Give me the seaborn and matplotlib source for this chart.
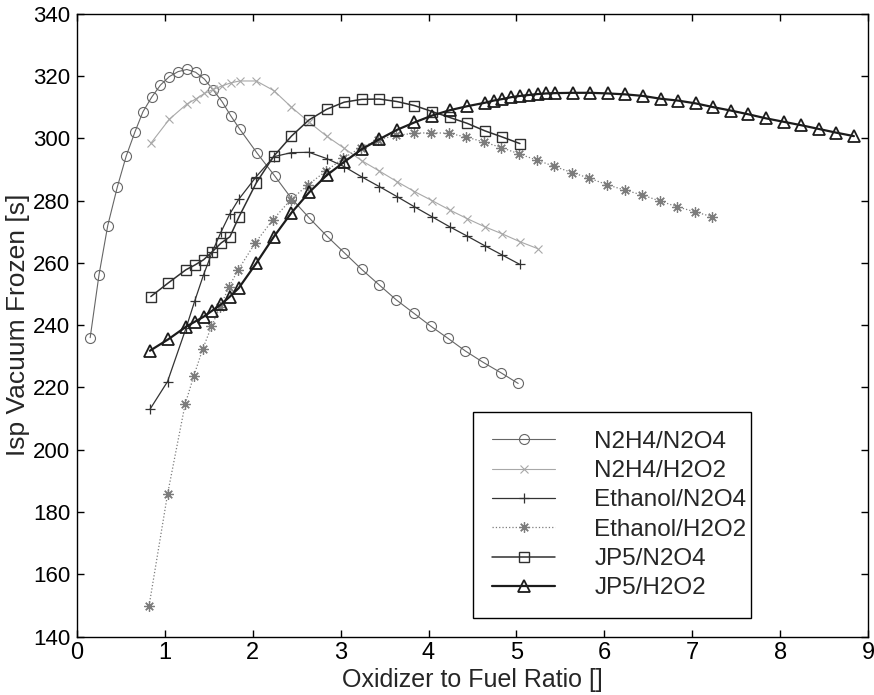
import seaborn as sns
from matplotlib import pyplot as plt
from matplotlib import font_manager

# Oxidizer to fuel ratio / Isp vacuum frozen [s]
n2h4_n2o4_of = [0.15, 0.25, 0.35, 0.46, 0.56, 0.66, 0.75, 0.85, 0.95, 1.05, 1.15, 1.25,
                1.35, 1.45, 1.55, 1.65, 1.75, 1.85, 2.05, 2.25, 2.44, 2.64, 2.84, 3.04,
                3.24, 3.44, 3.63, 3.83, 4.03, 4.22, 4.42, 4.62, 4.82, 5.02]
n2h4_n2o4_isp = [236.0, 256.1, 272.0, 284.5, 294.3, 302.1, 308.5, 313.2, 317.1, 319.8,
                 321.4, 322.1, 321.2, 319.0, 315.5, 311.8, 307.2, 303.0, 295.2, 287.9,
                 280.7, 274.5, 268.7, 263.3, 257.9, 252.9, 248.2, 243.9, 239.6, 235.8,
                 231.7, 228.1, 224.8, 221.3]

n2h4_h2o2_of = [0.84, 1.05, 1.25, 1.35, 1.45, 1.55, 1.65, 1.75, 1.85, 2.04, 2.24, 2.44,
                2.64, 2.84, 3.04, 3.24, 3.44, 3.64, 3.84, 4.04, 4.24, 4.44, 4.64, 4.84,
                5.04, 5.24]
n2h4_h2o2_isp = [298.4, 306.1, 311.0, 312.6, 314.4, 315.7, 316.8, 317.8, 318.4, 318.4,
                 315.3, 310.0, 305.2, 300.7, 296.8, 292.8, 289.5, 286.1, 282.9, 280.0,
                 277.0, 274.2, 271.6, 269.3, 266.8, 264.6]

ethanol_n2o4_of = [0.83, 1.03, 1.24, 1.34, 1.44, 1.54, 1.64, 1.74, 1.84, 2.04, 2.24, 2.44,
                   2.64, 2.84, 3.04, 3.24, 3.44, 3.64, 3.84, 4.04, 4.24, 4.44, 4.64, 4.84,
                   5.04]
ethanol_n2o4_isp = [213.0, 221.9, 239.0, 247.8, 256.2, 263.6, 270.0, 275.8, 280.4, 287.7,
                    294.1, 295.4, 295.5, 293.5, 290.9, 287.6, 284.5, 281.3, 278.0, 274.8,
                    271.6, 268.6, 265.5, 262.5, 259.5]

ethanol_h2o2_of = [0.82, 1.03, 1.23, 1.33, 1.43, 1.53, 1.63, 1.73, 1.83, 2.03, 2.23, 2.43,
                   2.63, 2.83, 3.03, 3.23, 3.43, 3.63, 3.83, 4.03, 4.23, 4.43, 4.63, 4.83,
                   5.03, 5.23, 5.43, 5.63, 5.83, 6.03, 6.23, 6.43, 6.63, 6.83, 7.03, 7.23]
ethanol_h2o2_isp = [149.9, 185.7, 214.6, 223.8, 232.3, 239.6, 246.0, 252.3, 257.6, 266.5,
                    273.9, 280.2, 285.1, 289.4, 293.6, 297.0, 299.6, 300.9, 301.6, 301.8,
                    301.6, 300.4, 298.8, 297.0, 295.0, 293.0, 291.0, 289.0, 287.2, 285.1,
                    283.4, 281.8, 279.9, 278.0, 276.4, 274.8]

jp5_n2o4_of = [0.84, 1.04, 1.24, 1.34, 1.44, 1.54, 1.64, 1.74, 1.84, 2.04, 2.24, 2.44,
               2.64, 2.84, 3.04, 3.24, 3.44, 3.64, 3.84, 4.04, 4.24, 4.44, 4.64, 4.84, 5.04]
jp5_n2o4_isp = [249.2, 253.6, 257.8, 259.3, 261.0, 263.6, 266.4, 268.4, 274.6, 285.7,
                294.3, 300.7, 305.9, 309.3, 311.6, 312.5, 312.6, 311.8, 310.5, 308.6,
                306.7, 304.8, 302.4, 300.4, 298.3]

jp5_h2o2_of = [0.83, 1.04, 1.24, 1.34, 1.44, 1.54, 1.64, 1.74, 1.84, 2.04, 2.24, 2.44,
               2.64, 2.84, 3.04, 3.24, 3.44, 3.64, 3.84, 4.04, 4.24, 4.44, 4.64, 4.74,
               4.84, 4.94, 5.04, 5.14, 5.24, 5.34, 5.44, 5.64, 5.84, 6.04, 6.24, 6.44,
               6.64, 6.84, 7.04, 7.24, 7.44, 7.64, 7.84, 8.04, 8.24, 8.44, 8.64, 8.84]
jp5_h2o2_isp = [231.8, 235.5, 239.5, 241.1, 242.7, 244.7, 246.7, 249.2, 251.9, 259.9,
                268.4, 276.1, 282.6, 288.1, 292.4, 296.5, 299.7, 302.7, 305.1, 307.3,
                309.0, 310.3, 311.4, 312.1, 312.6, 313.2, 313.6, 313.9, 314.2, 314.4,
                314.5, 314.6, 314.6, 314.4, 314.1, 313.6, 312.7, 312.1, 311.2, 310.0,
                308.9, 307.7, 306.4, 305.3, 304.2, 303.0, 301.8, 300.7]

labels = ['N2H4/N2O4', 'N2H4/H2O2', 'Ethanol/N2O4', 'Ethanol/H2O2', 'JP5/N2O4', 'JP5/H2O2']
x_ticks = [0, 1, 2, 3, 4, 5, 6, 7, 8, 9]
y_ticks = [140, 160, 180, 200, 220, 240, 260, 280, 300, 320, 340]

series = [(n2h4_n2o4_of, n2h4_n2o4_isp), (n2h4_h2o2_of, n2h4_h2o2_isp),
          (ethanol_n2o4_of, ethanol_n2o4_isp), (ethanol_h2o2_of, ethanol_h2o2_isp),
          (jp5_n2o4_of, jp5_n2o4_isp), (jp5_h2o2_of, jp5_h2o2_isp)]

# line styles, MATLAB-like greyscale
styles = [
    dict(color='#666666', marker='o', markersize=7.2, lw=0.8, ls='-', mew=0.8),
    dict(color='#a8a8a8', marker='x', markersize=5.5, lw=0.8, ls='-', mew=0.8),
    dict(color='#333333', marker='+', markersize=7.5, lw=0.9, ls='-', mew=0.9),
    dict(color='#7c7c7c', marker=(8, 2, 0), markersize=7.5, lw=0.9, ls=':', mew=0.9),
    dict(color='#303030', marker='s', markersize=6.5, lw=1.1, ls='-', mew=1.0),
    dict(color='#1c1c1c', marker='^', markersize=8.0, lw=1.6, ls='-', mew=1.3),
]

sns.set_style("ticks")
names = {f.name for f in font_manager.fontManager.ttflist}
base_font = 'Liberation Sans' if 'Liberation Sans' in names else 'DejaVu Sans'
plt.rcParams['font.family'] = [base_font, 'DejaVu Sans']
plt.rcParams.update({
    'xtick.direction': 'in', 'ytick.direction': 'in',
    'xtick.top': True, 'ytick.right': True,
    'axes.edgecolor': 'black', 'axes.linewidth': 1.0,
    'xtick.color': 'black', 'ytick.color': 'black',
})

fig = plt.figure(figsize=(8.74, 6.95), dpi=100)
ax = fig.add_axes([0.0881, 0.0839, 0.905, 0.8964])

for (of, isp), name, st in zip(series, labels, styles):
    sns.lineplot(x=of, y=isp, ax=ax, label=name, sort=False, estimator=None,
                 color=st['color'], linewidth=st['lw'], linestyle=st['ls'],
                 marker=st['marker'], markersize=st['markersize'],
                 markerfacecolor='none', markeredgecolor=st['color'],
                 markeredgewidth=st['mew'])

ax.set_xlim(0, 9)
ax.set_ylim(140, 340)
ax.set_xticks(x_ticks)
ax.set_yticks(y_ticks)
ax.tick_params(axis='both', which='major', length=5, width=1.0)
ax.tick_params(axis='x', labelsize=17, pad=4)
ax.tick_params(axis='y', labelsize=16, pad=5)

ax.set_xlabel('Oxidizer to Fuel Ratio []', fontsize=18, labelpad=3)
ax.set_ylabel('Isp Vacuum Frozen [s]', fontsize=19, labelpad=2)

leg = ax.legend(loc='lower left', bbox_to_anchor=(0.501, 0.0295, 0.351, 0.33),
                mode='expand', borderaxespad=0, fontsize=17.5, frameon=True,
                fancybox=False, edgecolor='black', framealpha=1, labelspacing=0.3,
                borderpad=0.78, handlelength=2.6, handletextpad=1.6)
leg.get_frame().set_linewidth(1.0)

fig.savefig('out.png', dpi=100)
plt.close(fig)
